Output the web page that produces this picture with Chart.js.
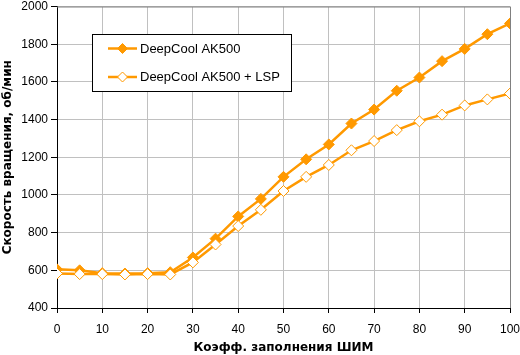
<!DOCTYPE html>
<html>
<head>
<meta charset="utf-8">
<script src="https://cdn.jsdelivr.net/npm/chart.js@4/dist/chart.umd.min.js"></script>
<style>
html,body{margin:0;padding:0;background:#fff;}
#wrap{width:520px;height:355px;position:relative;}
</style>
</head>
<body>
<div id="wrap"><canvas id="c" width="520" height="355"></canvas></div>
<script>
const pwm = [0,5,10,15,20,25,30,35,40,45,50,55,60,65,70,75,80,85,90,95,100];
const ak500 = [605,600,585,583,585,590,668,768,886,979,1096,1189,1268,1379,1453,1553,1623,1710,1775,1853,1910];
const ak500lsp = [583,580,580,578,580,578,642,737,835,921,1021,1096,1159,1237,1286,1344,1391,1426,1475,1507,1538];
const seriesNames = ['DeepCool AK500','DeepCool AK500 + LSP'];
const xTitle = 'Коэфф. заполнения ШИМ';
const yTitle = 'Скорость вращения, об/мин';

const ORANGE = '#FF9900';
const FONT = "'Liberation Sans', Arial, sans-serif";
const TFONT = "'DejaVu Sans', Verdana, sans-serif";

const legendPlugin = {
  id: 'boxLegend',
  afterDraw(chart) {
    const ctx = chart.ctx;
    const x0 = 92.5, y0 = 34.5, w = 199, h = 57;
    ctx.save();
    ctx.fillStyle = '#fff';
    ctx.fillRect(x0, y0, w, h);
    ctx.strokeStyle = '#000';
    ctx.lineWidth = 1;
    ctx.strokeRect(x0, y0, w, h);
    const rows = [48.5, 77];
    chart.data.datasets.forEach((ds, i) => {
      const y = rows[i];
      ctx.strokeStyle = ORANGE;
      ctx.lineWidth = 2.5;
      ctx.beginPath();
      ctx.moveTo(108, y);
      ctx.lineTo(137, y);
      ctx.stroke();
      const r = 5;
      ctx.beginPath();
      ctx.moveTo(122.5, y - r);
      ctx.lineTo(122.5 + r, y);
      ctx.lineTo(122.5, y + r);
      ctx.lineTo(122.5 - r, y);
      ctx.closePath();
      ctx.fillStyle = ds.pointBackgroundColor;
      ctx.fill();
      ctx.lineWidth = 1;
      ctx.strokeStyle = ORANGE;
      ctx.stroke();
      ctx.fillStyle = '#000';
      ctx.font = '13px ' + FONT;
      ctx.textBaseline = 'middle';
      ctx.textAlign = 'left';
      ctx.fillText(ds.label, 140, y + 0.5);
    });
    ctx.restore();
  }
};

new Chart(document.getElementById('c'), {
  type: 'line',
  data: {
    datasets: [
      {
        label: seriesNames[0],
        data: pwm.map((x, i) => ({x: x, y: ak500[i]})),
        borderColor: ORANGE,
        borderWidth: 2.5,
        pointStyle: 'rectRot',
        pointRadius: 5.5,
        pointBackgroundColor: ORANGE,
        pointBorderColor: ORANGE,
        pointBorderWidth: 1,
        tension: 0,
        order: 1
      },
      {
        label: seriesNames[1],
        data: pwm.map((x, i) => ({x: x, y: ak500lsp[i]})),
        borderColor: ORANGE,
        borderWidth: 2.5,
        pointStyle: 'rectRot',
        pointRadius: 5.5,
        pointBackgroundColor: '#fff',
        pointBorderColor: ORANGE,
        pointBorderWidth: 1,
        tension: 0,
        order: 0
      }
    ]
  },
  options: {
    responsive: false,
    animation: false,
    devicePixelRatio: 1,
    layout: {padding: {top: 5, right: 10, left: 0, bottom: 0}},
    plugins: {legend: {display: false}, tooltip: {enabled: false}},
    scales: {
      x: {
        type: 'linear',
        min: 0, max: 100,
        ticks: {stepSize: 10, color: '#000', font: {family: FONT, size: 12}, padding: 9, maxRotation: 0},
        grid: {color: '#c0c0c0', tickColor: '#000', tickLength: 5, lineWidth: 1},
        border: {color: '#000', width: 1},
        title: {display: true, text: xTitle, color: '#000', font: {family: TFONT, size: 12, weight: 'bold'}, padding: {top: 2, bottom: 0}},
        afterFit(scale) { scale.height = 47; scale.paddingLeft = 0; scale.paddingRight = 0; }
      },
      y: {
        min: 400, max: 2000,
        ticks: {stepSize: 200, color: '#000', font: {family: FONT, size: 12}, padding: 3,
          callback: (v) => String(v)},
        grid: {color: '#c0c0c0', tickColor: '#000', tickLength: 6, lineWidth: 1},
        border: {color: '#000', width: 1},
        title: {display: true, text: yTitle, color: '#000', font: {family: TFONT, size: 12, weight: 'bold'}, padding: {top: 1, bottom: 0}},
        afterFit(scale) { scale.width = 57; scale.paddingTop = 0; scale.paddingBottom = 0; }
      }
    }
  },
  plugins: [legendPlugin, {
    id: 'frame',
    beforeDatasetsDraw(chart) {
      const a = chart.chartArea, ctx = chart.ctx;
      ctx.save();
      ctx.strokeStyle = '#808080';
      ctx.lineWidth = 1;
      ctx.beginPath();
      ctx.moveTo(a.left, a.top + 0.5);
      ctx.lineTo(a.right + 0.5, a.top + 0.5);
      ctx.lineTo(a.right + 0.5, a.bottom);
      ctx.stroke();
      ctx.restore();
    }
  }]
});
</script>
</body>
</html>
